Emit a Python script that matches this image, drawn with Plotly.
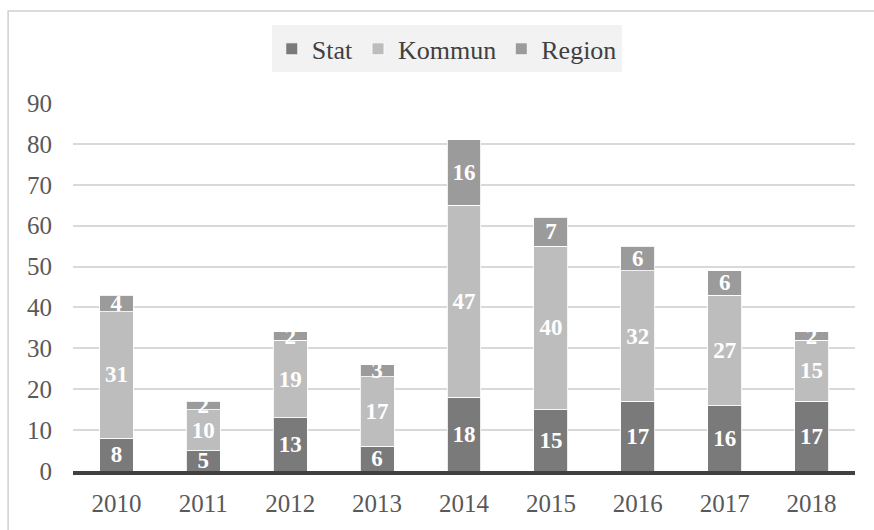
import plotly.graph_objects as go

years = ["2010", "2011", "2012", "2013", "2014", "2015", "2016", "2017", "2018"]
stat = [8, 5, 13, 6, 18, 15, 17, 16, 17]
kommun = [31, 10, 19, 17, 47, 40, 32, 27, 15]
region = [4, 2, 2, 3, 16, 7, 6, 6, 2]
y_ticks = [0, 10, 20, 30, 40, 50, 60, 70, 80, 90]

FONT = "Liberation Serif"
series = [("Stat", stat, "#7a7a7a"), ("Kommun", kommun, "#bdbdbd"), ("Region", region, "#9b9b9b")]

fig = go.Figure()
for name, vals, col in series:
    fig.add_trace(go.Bar(
        x=years, y=vals, name=name,
        marker=dict(color=col, line=dict(color="rgba(255,255,255,0.85)", width=1)),
        text=[str(v) for v in vals], textposition="inside", insidetextanchor="middle",
        textangle=0, constraintext="none",
        textfont=dict(family=FONT, size=23, color="white", weight="bold"),
        hoverinfo="skip", cliponaxis=False,
    ))

fig.update_layout(
    width=874, height=530,
    barmode="stack", bargap=0.61,
    plot_bgcolor="white", paper_bgcolor="white",
    margin=dict(l=73, r=19, t=103, b=59, autoexpand=False),
    font=dict(family=FONT, size=25, color="#595959"),
    legend=dict(
        orientation="h", x=0.478, xanchor="center", y=1.147, yanchor="middle",
        bgcolor="#f2f2f2", font=dict(family=FONT, size=26, color="#404040"),
        itemwidth=30, traceorder="normal",
    ),
    showlegend=True,
    xaxis=dict(
        showgrid=False, showline=True, linecolor="#404040", linewidth=4,
        ticks="", tickfont=dict(family=FONT, size=25, color="#595959"),
        ticklabelstandoff=7, fixedrange=True,
    ),
    yaxis=dict(
        range=[0, 90], tickvals=y_ticks, showgrid=True, gridcolor="#d9d9d9", gridwidth=1.5,
        zeroline=False, showline=False, ticks="",
        tickfont=dict(family=FONT, size=25, color="#595959"),
        ticklabelstandoff=20, fixedrange=True,
    ),
    shapes=[dict(type="rect", xref="paper", yref="paper",
                 x0=-0.083, x1=1.2, y0=-0.4, y1=1.25,
                 line=dict(color="#d0d0d0", width=1.5), fillcolor="rgba(0,0,0,0)", layer="below")],
)

fig.write_html("out.html", config={"displayModeBar": False},
               post_script="document.body.style.margin='0';")
